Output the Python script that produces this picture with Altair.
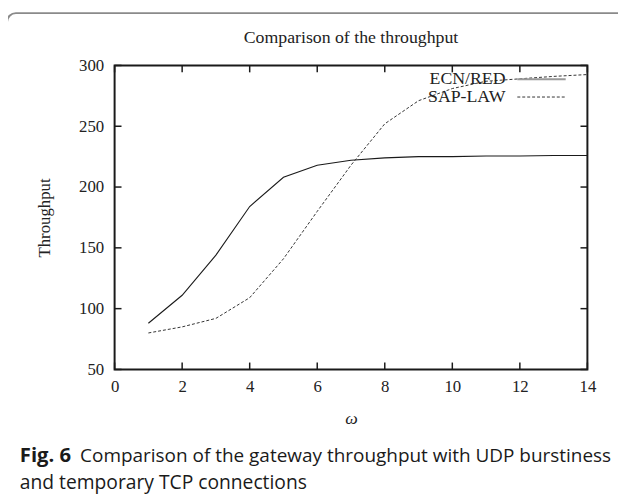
import altair as alt
import pandas as pd

# ---- data ----
omega = [1, 2, 3, 4, 5, 6, 7, 8, 9, 10, 11, 12, 13, 14]
ecn_red = [88, 111, 144, 184, 208, 218, 222, 224, 225, 225, 225.5, 225.5, 226, 226]
sap_law = [80, 85, 92, 109, 141, 180, 218, 252, 271, 281, 287, 289, 291, 292.5]
x_ticks = [0, 2, 4, 6, 8, 10, 12, 14]
y_ticks = [50, 100, 150, 200, 250, 300]
series_names = ["ECN/RED", "SAP-LAW"]

W, H = 479, 308
SERIF = "Liberation Serif"
SANS = "Open Sans"
TXT = "#222222"

df_ecn = pd.DataFrame({"omega": omega, "thr": ecn_red})
df_sap = pd.DataFrame({"omega": omega, "thr": sap_law})
df_xt = pd.DataFrame({"omega": x_ticks})
df_yt = pd.DataFrame({"thr": y_ticks})

xs = alt.Scale(domain=[0, 14], nice=False)
ys = alt.Scale(domain=[50, 300], nice=False)

x_axis = alt.Axis(values=x_ticks, ticks=False, tickSize=0, domain=False, grid=False,
                  labelFont=SERIF, labelFontSize=17, labelColor=TXT,
                  labelPadding=9, labelFlush=False, title="ω", titleFont=SERIF,
                  titleFontSize=18, titleFontStyle="italic", titleFontWeight="normal",
                  titleColor=TXT, titlePadding=16)
y_axis = alt.Axis(values=y_ticks, ticks=False, tickSize=0, domain=False, grid=False,
                  labelFont=SERIF, labelFontSize=17, labelColor=TXT,
                  labelPadding=11, labelFlush=False, title="Throughput", titleFont=SERIF,
                  titleFontSize=17, titleFontWeight="normal", titleColor=TXT,
                  titlePadding=25)

X = alt.X("omega:Q", scale=xs, axis=x_axis)
Y = alt.Y("thr:Q", scale=ys, axis=y_axis)

line_ecn = alt.Chart(df_ecn).mark_line(color="#1a1a1a", strokeWidth=1.1).encode(x=X, y=Y)
line_sap = alt.Chart(df_sap).mark_line(color="#333333", strokeWidth=1, strokeDash=[3, 2]).encode(x=X, y=Y)

tick_col = "#1a1a1a"
tb = alt.Chart(df_xt).mark_rule(color=tick_col, strokeWidth=1.5).encode(
    x=X, y=alt.value(H - 7), y2=alt.value(H))
tt = alt.Chart(df_xt).mark_rule(color=tick_col, strokeWidth=1.5).encode(
    x=X, y=alt.value(0), y2=alt.value(7))
tl = alt.Chart(df_yt).mark_rule(color=tick_col, strokeWidth=1.5).encode(
    y=Y, x=alt.value(0), x2=alt.value(7))
tr = alt.Chart(df_yt).mark_rule(color=tick_col, strokeWidth=1.5).encode(
    y=Y, x=alt.value(W - 7), x2=alt.value(W))

one = pd.DataFrame({"a": [0]})

# legend (gnuplot-style key, label left of sample)
leg_t1 = alt.Chart(one).mark_text(align="right", baseline="middle", font=SERIF, fontSize=18,
                                  color=TXT, text=series_names[0]).encode(
    x=alt.value(396), y=alt.value(14))
leg_t2 = alt.Chart(one).mark_text(align="right", baseline="middle", font=SERIF, fontSize=18,
                                  color=TXT, text=series_names[1]).encode(
    x=alt.value(396), y=alt.value(32))
leg_l1 = alt.Chart(one).mark_rule(color="#999999", strokeWidth=2).encode(
    x=alt.value(408), x2=alt.value(457), y=alt.value(14))
leg_l2 = alt.Chart(one).mark_rule(color="#333333", strokeWidth=1, strokeDash=[3, 2]).encode(
    x=alt.value(408), x2=alt.value(457), y=alt.value(32))

# chart title
title = alt.Chart(one).mark_text(align="center", baseline="middle", font=SERIF, fontSize=18,
                                 color=TXT, text="Comparison of the throughput").encode(
    x=alt.value(W / 2), y=alt.value(-28))

# caption
cap_b = alt.Chart(one).mark_text(align="left", baseline="middle", font=SANS, fontSize=20.5,
                                 fontWeight="bold", color="#1a1a1a", text="Fig. 6").encode(
    x=alt.value(-96), y=alt.value(396))
cap_1 = alt.Chart(one).mark_text(align="left", baseline="middle", font=SANS, fontSize=19.2,
                                 color="#1a1a1a",
                                 text="Comparison of the gateway throughput with UDP burstiness").encode(
    x=alt.value(-35), y=alt.value(396))
cap_2 = alt.Chart(one).mark_text(align="left", baseline="middle", font=SANS, fontSize=19.5,
                                 color="#1a1a1a", text="and temporary TCP connections").encode(
    x=alt.value(-96), y=alt.value(423))

# card frame
card = alt.Chart(one).mark_rect(fill=None, filled=False, stroke="#8a8a8a", strokeWidth=2,
                                cornerRadius=9).encode(
    x=alt.value(-109), x2=alt.value(560), y=alt.value(-53), y2=alt.value(480))

chart = alt.layer(
    card, line_ecn, line_sap, tb, tt, tl, tr, leg_l1, leg_l2, leg_t1, leg_t2, title,
    cap_b, cap_1, cap_2
).properties(
    width=W, height=H,
    autosize=alt.AutoSizeParams(type="none"),
    padding={"left": 108, "top": 55, "right": 31, "bottom": 124},
).configure_view(
    stroke="#1a1a1a", strokeWidth=2
)

chart.save("out.html", embed_options={"renderer": "svg", "actions": False})
